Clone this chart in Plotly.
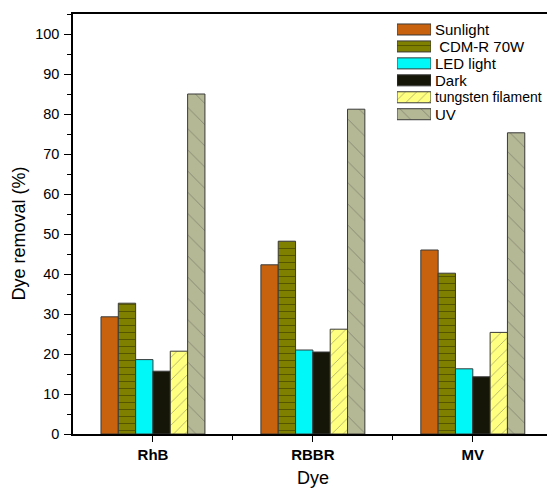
import plotly.graph_objects as go

dyes = ["RhB", "RBBR", "MV"]
sources = ["Sunlight", " CDM-R 70W", "LED light", "Dark", "tungsten filament", "UV"]
sunlight = [29.3, 42.3, 46.0]
cdm_r_70w = [32.7, 48.2, 40.2]
led_light = [18.6, 21.0, 16.3]
dark = [15.7, 20.5, 14.3]
tungsten = [20.7, 26.2, 25.4]
uv = [85.0, 81.2, 75.3]

series = [sunlight, cdm_r_70w, led_light, dark, tungsten, uv]
fills = ["#C8620E", "#7F7F00", "#00F8F8", "#151508", "#FFFF80", "#B5B894"]
patterns = [
    dict(shape=""),
    dict(shape="-", fgcolor="#1a1a00", size=7, solidity=0.12),
    dict(shape=""),
    dict(shape=""),
    dict(shape="/", fgcolor="#555555", size=8, solidity=0.1),
    dict(shape="\\", fgcolor="#555555", size=15, solidity=0.06),
]
key_font_sizes = [15, 15, 15, 15, 14, 15]
outline = dict(color="#3a3a3a", width=1)
FONT = "Liberation Sans, Arial, sans-serif"

xpos = list(range(len(dyes)))

fig = go.Figure()
for name, vals, col, pat in zip(sources, series, fills, patterns):
    fig.add_trace(go.Bar(
        x=xpos, y=vals, name=name, showlegend=False,
        marker=dict(color=col, line=outline, pattern=pat),
    ))

# Key: one patterned swatch per light source on its own small axis pair
key_rows = list(range(len(sources)))
for i, (col, pat) in enumerate(zip(fills, patterns)):
    fig.add_trace(go.Bar(
        x=[1], y=[key_rows[i]], orientation="h",
        xaxis="x2", yaxis="y2", showlegend=False, hoverinfo="skip",
        marker=dict(color=col, line=outline, pattern=pat),
    ))
for i, name in enumerate(sources):
    fig.add_annotation(
        x=1, y=key_rows[i], xref="x2", yref="y2",
        text=name, showarrow=False, xanchor="left", yanchor="middle",
        xshift=2, font=dict(family=FONT, size=key_font_sizes[i], color="black"),
    )

fig.update_layout(
    width=547, height=488,
    margin=dict(l=73, r=0, t=14, b=54),
    paper_bgcolor="white", plot_bgcolor="white",
    barmode="group", bargap=0.35, bargroupgap=0,
    font=dict(family=FONT, color="black"),
    showlegend=False,
    xaxis2=dict(domain=[0.6835, 0.7553], range=[0, 1], anchor="y2",
                visible=False, fixedrange=True),
    yaxis2=dict(domain=[0.7412, 0.9833], range=[5.5, -0.5], anchor="x2",
                visible=False, fixedrange=True),
    xaxis=dict(
        range=[-0.5, 2.464],
        tickvals=xpos, ticktext=["<b>%s</b>" % d for d in dyes],
        tickfont=dict(size=15),
        ticks="outside", ticklen=6, tickcolor="black",
        minor=dict(tickvals=[0.5, 1.5], ticks="outside", ticklen=4, tickcolor="black"),
        showline=True, linecolor="black", linewidth=1.5, mirror=True,
        showgrid=False, zeroline=False,
    ),
    yaxis=dict(
        range=[0, 105],
        tickvals=list(range(0, 101, 10)),
        tickfont=dict(size=14.5),
        ticks="outside", ticklen=7, tickcolor="black", ticklabelstandoff=2,
        minor=dict(dtick=5, ticks="outside", ticklen=4, tickcolor="black"),
        showline=True, linecolor="black", linewidth=1.5, mirror=False,
        showgrid=False, zeroline=False,
    ),
)

# Axis titles
fig.add_annotation(
    x=-0.114, y=0.477, xref="paper", yref="paper", text="Dye removal (%)",
    textangle=-90, showarrow=False, xanchor="center", yanchor="middle",
    font=dict(family=FONT, size=18, color="black"),
)
fig.add_annotation(
    x=1, y=-0.1045, xref="x", yref="paper", text="Dye",
    showarrow=False, xanchor="center", yanchor="middle",
    font=dict(family=FONT, size=18, color="black"),
)

fig.write_html("out.html")
